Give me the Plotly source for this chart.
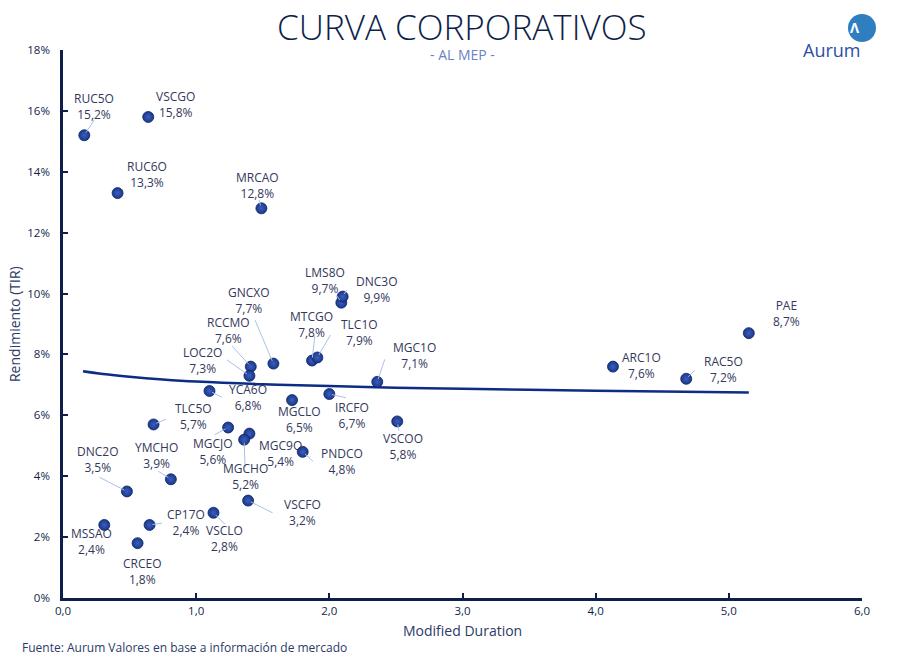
import plotly.graph_objects as go

# ---- data ----
names = ["RUC5O", "VSCGO", "RUC6O", "MRCAO", "LMS8O", "DNC3O", "GNCXO", "RCCMO",
         "LOC2O", "MTCGO", "TLC1O", "MGC1O", "YCA6O", "MGCLO", "IRCFO", "TLC5O",
         "MGCJO", "MGC9O", "MGCHO", "PNDCO", "VSCOO", "YMCHO", "DNC2O", "VSCFO",
         "VSCLO", "CP17O", "MSSAO", "CRCEO", "ARC1O", "RAC5O", "PAE"]
duration = [0.16, 0.64, 0.41, 1.49, 2.09, 2.10, 1.58, 1.41,
            1.40, 1.87, 1.91, 2.36, 1.10, 1.72, 2.00, 0.68,
            1.24, 1.40, 1.36, 1.80, 2.51, 0.81, 0.48, 1.39,
            1.13, 0.65, 0.31, 0.56, 4.13, 4.68, 5.15]
yields = [15.2, 15.8, 13.3, 12.8, 9.7, 9.9, 7.7, 7.6,
          7.3, 7.8, 7.9, 7.1, 6.8, 6.5, 6.7, 5.7,
          5.6, 5.4, 5.2, 4.8, 5.8, 3.9, 3.5, 3.2,
          2.8, 2.4, 2.4, 1.8, 7.6, 7.2, 8.7]

curve_x = [0.15, 0.3, 0.5, 0.75, 1.0, 1.5, 2.0, 2.5, 3.0, 3.5, 4.0, 4.5, 5.15]
curve_y = [7.45, 7.36, 7.27, 7.18, 7.11, 7.02, 6.96, 6.91, 6.87, 6.84, 6.81, 6.78, 6.75]

x_ticks = [0, 1, 2, 3, 4, 5, 6]
x_tick_labels = ["0,0", "1,0", "2,0", "3,0", "4,0", "5,0", "6,0"]
y_ticks = [0, 2, 4, 6, 8, 10, 12, 14, 16, 18]
y_tick_labels = ["0%", "2%", "4%", "6%", "8%", "10%", "12%", "14%", "16%", "18%"]

# ---- label placement (pixel offsets of label centre from point) ----
label_off = {
    "RUC5O": (10, -29), "VSCGO": (27, -12), "RUC6O": (29, -19), "MRCAO": (-4, -23),
    "LMS8O": (-16, -22), "DNC3O": (34, -7), "GNCXO": (-24, -63), "RCCMO": (-22, -36),
    "LOC2O": (-47, -15), "MTCGO": (-1, -36), "TLC1O": (42, -25), "MGC1O": (37, -26),
    "YCA6O": (39, 7), "MGCLO": (7, 19), "IRCFO": (23, 21), "TLC5O": (40, -8),
    "MGCJO": (-15, 24), "MGC9O": (31, 20), "MGCHO": (1, 37), "PNDCO": (39, 10),
    "VSCOO": (6, 25), "YMCHO": (-14, -24), "DNC2O": (-29, -32), "VSCFO": (54, 12),
    "VSCLO": (11, 26), "CP17O": (36, -2), "MSSAO": (-13, 17), "CRCEO": (5, 28),
    "ARC1O": (29, -1), "RAC5O": (37, -9), "PAE": (38, -20),
}
leader_off = {
    "RUC5O": (11, -17), "MRCAO": (-3, -10), "LMS8O": (-5, -8), "DNC3O": (5, -8),
    "GNCXO": (-19, -45), "RCCMO": (-20, -22), "LOC2O": (-24, -17), "MTCGO": (3, -26),
    "TLC1O": (14, -24), "MGC1O": (8, -24), "YCA6O": (14, 7), "IRCFO": (18, 4),
    "TLC5O": (14, -6), "MGCJO": (-15, 8), "MGCHO": (1, 29), "PNDCO": (12, 11),
    "VSCOO": (2, 11), "YMCHO": (-14, -9), "DNC2O": (-29, -15), "VSCFO": (26, 13),
    "VSCLO": (13, 13), "CP17O": (14, -2), "RAC5O": (10, -10),
}

FONT = "Open Sans"
NAVY = "#0f1f4b"
TXT = "#33385c"

fig = go.Figure()
fig.add_trace(go.Scatter(x=curve_x, y=curve_y, mode="lines",
                         line=dict(color="#0c2d84", width=2.5, shape="spline"),
                         hoverinfo="skip", showlegend=False))
fig.add_trace(go.Scatter(x=duration, y=yields, mode="markers",
                         marker=dict(size=11, color="#1a378c",
                                     gradient=dict(type="radial", color="#3b5fba"),
                                     line=dict(color="#0d2466", width=0.8)),
                         text=names, showlegend=False))

ann = []
for n, x, y in zip(names, duration, yields):
    dx, dy = label_off[n]
    if n in leader_off:
        lx, ly = leader_off[n]
        ann.append(dict(x=x, y=y, xref="x", yref="y", text="", showarrow=True,
                        ax=lx, ay=ly, arrowhead=0, arrowwidth=1, arrowcolor="#a9c1ea",
                        standoff=3))
    val = f"{y:.1f}%".replace(".", ",")
    ann.append(dict(x=x, y=y, xref="x", yref="y", text=f"{n}<br>{val}", showarrow=False,
                    xshift=dx, yshift=-dy, align="center",
                    font=dict(family=FONT, size=12, color=TXT)))

# titles and notes
ann += [
    dict(x=0.4994, y=(598 - 1) / 548, xref="paper", yref="paper", text="CURVA CORPORATIVOS",
         showarrow=False, font=dict(family=FONT, size=35, color=NAVY, weight=300),
         yanchor="top"),
    dict(x=0.4994, y=(598 - 55) / 548, xref="paper", yref="paper", text="- AL MEP -",
         showarrow=False, font=dict(family=FONT, size=14, color="#6b7fc4"), yanchor="middle"),
    dict(x=0.4994, y=-0.0584, xref="paper", yref="paper", text="Modified Duration",
         showarrow=False, font=dict(family=FONT, size=14, color="#2b3a67"), yanchor="middle"),
    dict(x=-0.0613, y=0.5, xref="paper", yref="paper", text="Rendimiento (TIR)",
         showarrow=False, textangle=-90, font=dict(family=FONT, size=14, color="#2b3a67"),
         xanchor="center", yanchor="middle"),
    dict(x=-0.0538, y=-0.0912, xref="paper", yref="paper",
         text="Fuente: Aurum Valores en base a información de mercado",
         showarrow=False, xanchor="left", yanchor="middle",
         font=dict(family=FONT, size=12, color="#2b3a67")),
    dict(x=1.0, y=(598 - 28) / 548, xref="paper", yref="paper", text="<b>Λ</b>", showarrow=False,
         font=dict(family=FONT, size=14, color="white"), yanchor="middle"),
    dict(x=1.0, y=(598 - 50) / 548, xref="paper", yref="paper", text="Aurum", showarrow=False,
         font=dict(family=FONT, size=18, color="#2a4fa5"), yanchor="middle"),
]

fig.update_layout(
    width=910, height=661,
    margin=dict(l=63, r=48, t=50, b=63),
    paper_bgcolor="white", plot_bgcolor="white",
    annotations=ann,
    shapes=[dict(type="circle", xref="paper", yref="paper",
                 x0=(848 - 63) / 799, x1=(876 - 63) / 799,
                 y0=(598 - 42) / 548, y1=(598 - 14) / 548,
                 fillcolor="#2f7fc0", line=dict(width=0))],
    xaxis=dict(range=[0, 6], tickvals=x_ticks, ticktext=x_tick_labels,
               showgrid=False, zeroline=False, showline=True, linecolor=NAVY, linewidth=2.5,
               ticks="inside", ticklen=5, tickwidth=2, tickcolor=NAVY,
               tickfont=dict(family=FONT, size=11.5, color=NAVY)),
    yaxis=dict(range=[0, 18], tickvals=y_ticks, ticktext=y_tick_labels,
               showgrid=False, zeroline=False, showline=True, linecolor=NAVY, linewidth=2.5,
               ticks="inside", ticklen=5, tickwidth=2, tickcolor=NAVY,
               ticklabelstandoff=8,
               tickfont=dict(family=FONT, size=11.5, color=NAVY)),
)

fig.write_html("out.html")
